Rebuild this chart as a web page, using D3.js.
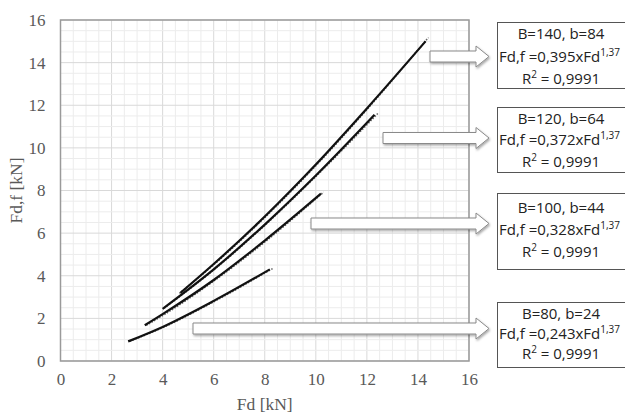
<!DOCTYPE html>
<html>
<head>
<meta charset="utf-8">
<script src="https://cdn.jsdelivr.net/npm/d3@7"></script>
<style>
  body { margin: 0; background: #fff; }
  svg { display: block; }
</style>
</head>
<body>
<svg width="625" height="415"></svg>
<script>
// values
const xTicks = [0, 2, 4, 6, 8, 10, 12, 14, 16];
const yTicks = [0, 2, 4, 6, 8, 10, 12, 14, 16];

const fd140 = [4.7, 6, 8, 10, 12, 14.3];
const ff140 = [3.2, 4.55, 6.78, 9.22, 11.85, 15.0];
const fit140x = [4.6, 6, 8, 10, 12, 14.35];
const fit140y = [3.2, 4.6, 6.82, 9.26, 11.9, 15.2];

const fd120 = [4.0, 6, 8, 10, 12.3];
const ff120 = [2.45, 4.3, 6.4, 8.7, 11.55];
const fit120x = [4.0, 6, 8, 10, 12.38];
const fit120y = [2.5, 4.35, 6.45, 8.75, 11.65];

const fd100 = [3.3, 4, 6, 8, 10.2];
const ff100 = [1.68, 2.2, 3.8, 5.65, 7.85];
const fit100x = [3.3, 4, 6, 8, 10.25];
const fit100y = [1.7, 2.2, 3.82, 5.66, 7.95];

const fd80 = [2.65, 4, 6, 8.2];
const ff80 = [0.92, 1.6, 2.82, 4.3];
const fit80x = [2.65, 4, 6, 8.25];
const fit80y = [0.95, 1.62, 2.84, 4.36];

const boxTitles = ["B=140, b=84", "B=120, b=64", "B=100, b=44", "B=80, b=24"];
const boxCoef = ["0,395", "0,372", "0,328", "0,243"];
const boxExp = "1,37";
const boxR2 = ["0,9991", "0,9991", "0,9991", "0,9991"];

const svg = d3.select("svg");
const margin = { top: 20, right: 156, bottom: 54, left: 60.5 };
const W = 625, H = 415;

const x = d3.scaleLinear().domain([0, 16]).range([margin.left, W - margin.right]);
const y = d3.scaleLinear().domain([0, 16]).range([H - margin.bottom, margin.top]);

// grid
const g = svg.append("g");
g.selectAll(".minx").data(d3.range(0, 16.01, 0.5)).enter().append("line")
  .attr("x1", d => x(d)).attr("x2", d => x(d))
  .attr("y1", y(0)).attr("y2", y(16))
  .attr("stroke", d => d % 2 === 0 ? "#d9d9d9" : "#ececec").attr("stroke-width", 1);
g.selectAll(".miny").data(d3.range(0, 16.01, 0.5)).enter().append("line")
  .attr("y1", d => y(d)).attr("y2", d => y(d))
  .attr("x1", x(0)).attr("x2", x(16))
  .attr("stroke", d => d % 2 === 0 ? "#d9d9d9" : "#ececec").attr("stroke-width", 1);

// frame
svg.append("rect")
  .attr("x", x(0)).attr("y", y(16))
  .attr("width", x(16) - x(0)).attr("height", y(0) - y(16))
  .attr("fill", "none").attr("stroke", "#9a9a9a").attr("stroke-width", 1.5);

// axes
const ax = svg.append("g").attr("transform", `translate(0,${y(0)})`)
  .call(d3.axisBottom(x).tickValues(xTicks).tickSize(0).tickPadding(12));
const ay = svg.append("g").attr("transform", `translate(${x(0)},0)`)
  .call(d3.axisLeft(y).tickValues(yTicks).tickSize(0).tickPadding(15));
[ax, ay].forEach(a => {
  a.select(".domain").remove();
  a.selectAll("text")
    .attr("font-family", "Liberation Serif, serif")
    .attr("font-size", 17).attr("fill", "#595959");
});

svg.append("text").attr("x", (x(0) + x(16)) / 2).attr("y", 410)
  .attr("text-anchor", "middle")
  .attr("font-family", "Liberation Serif, serif").attr("font-size", 17.5)
  .attr("fill", "#595959").text("Fd [kN]");
svg.append("text")
  .attr("transform", `translate(22,${(y(0) + y(16)) / 2}) rotate(-90)`)
  .attr("text-anchor", "middle")
  .attr("font-family", "Liberation Serif, serif").attr("font-size", 17.5)
  .attr("fill", "#595959").text("Fd,f [kN]");

// curves
const line = d3.line().x(d => x(d[0])).y(d => y(d[1])).curve(d3.curveMonotoneX);
const fits = [[fit140x, fit140y], [fit120x, fit120y], [fit100x, fit100y], [fit80x, fit80y]];
const meas = [[fd140, ff140], [fd120, ff120], [fd100, ff100], [fd80, ff80]];

fits.forEach(s => {
  svg.append("path").datum(d3.zip(s[0], s[1]))
    .attr("d", line).attr("fill", "none")
    .attr("stroke", "#666").attr("stroke-width", 1.6)
    .attr("stroke-dasharray", "1.5,1.5")
    .attr("transform", "translate(1.5,0.5)");
});
meas.forEach(s => {
  svg.append("path").datum(d3.zip(s[0], s[1]))
    .attr("d", line).attr("fill", "none")
    .attr("stroke", "#111").attr("stroke-width", 2.2);
});

// block arrows
const defs = svg.append("defs");
const f = defs.append("filter").attr("id", "sh").attr("x", "-10%").attr("y", "-50%")
  .attr("width", "130%").attr("height", "200%");
f.append("feDropShadow").attr("dx", 1).attr("dy", 1.5).attr("stdDeviation", 1)
  .attr("flood-color", "#000").attr("flood-opacity", 0.35);

const arrows = [
  { x0: 430, y: 56.5 },
  { x0: 383, y: 138 },
  { x0: 311, y: 223.5 },
  { x0: 193, y: 328.5 }
];
arrows.forEach(a => {
  const tip = 489, base = 476, sh = 5.5, hh = 10.5;
  const pts = [[a.x0, a.y - sh], [base, a.y - sh], [base, a.y - hh], [tip, a.y],
               [base, a.y + hh], [base, a.y + sh], [a.x0, a.y + sh]];
  svg.append("path").attr("d", "M" + pts.join("L") + "Z")
    .attr("fill", "#fff").attr("stroke", "#8a8a8a").attr("stroke-width", 1)
    .attr("filter", "url(#sh)");
});

// text boxes
const boxes = [
  { top: 22, h: 66, ly: [33, 56, 78] },
  { top: 107, h: 65, ly: [118, 139, 161] },
  { top: 193, h: 76, ly: [207, 229, 251] },
  { top: 302, h: 65, ly: [313, 333, 353] }
];
boxes.forEach((b, i) => {
  svg.append("rect").attr("x", 497.5).attr("y", b.top + 0.5)
    .attr("width", 140).attr("height", b.h)
    .attr("fill", "#fff").attr("stroke", "#555").attr("stroke-width", 1);
  const tg = svg.append("g")
    .attr("font-family", "Open Sans, sans-serif").attr("font-size", 15)
    .attr("fill", "#222").attr("dominant-baseline", "central");
  tg.append("text").attr("x", 561).attr("y", b.ly[0]).attr("text-anchor", "middle").text(boxTitles[i]);
  const t2 = tg.append("text").attr("x", 499).attr("y", b.ly[1]);
  t2.append("tspan").text("Fd,f =" + boxCoef[i] + "xFd");
  t2.append("tspan").attr("font-size", 10).attr("dy", -4).text(boxExp);
  const t3 = tg.append("text").attr("x", 561).attr("y", b.ly[2]).attr("text-anchor", "middle");
  t3.append("tspan").text("R");
  t3.append("tspan").text("2").attr("font-size", 10).attr("dy", -4);
  t3.append("tspan").text(" = " + boxR2[i]).attr("dy", 4);
});
</script>
</body>
</html>
